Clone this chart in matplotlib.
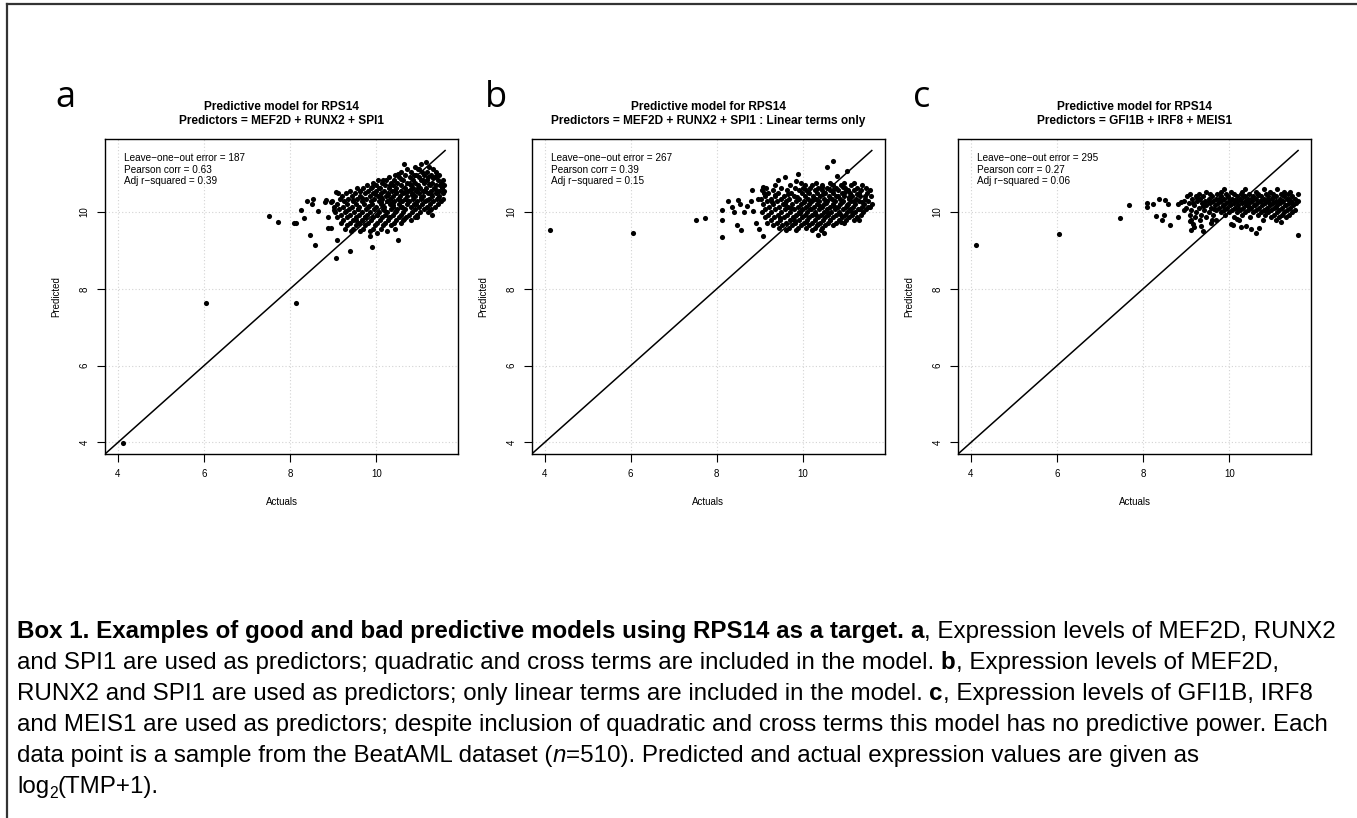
import matplotlib
matplotlib.use("Agg")
import matplotlib.pyplot as plt
from matplotlib.font_manager import FontProperties
from matplotlib.lines import Line2D

plt.rcParams['font.family'] = ['Liberation Sans', 'DejaVu Sans']

W, H = 1357, 818

# --- data (actual, predicted), log2(TMP+1) ---
# isolated / core points are (actual, predicted); the bulk of each cloud is
# written as rows: (predicted, [actual, actual, ...])

# panel a: MEF2D + RUNX2 + SPI1, quadratic and cross terms
a_outliers = [(4.12, 3.98), (6.05, 7.62), (8.13, 7.64), (7.50, 9.89), (7.71, 9.74),
              (8.10, 9.71), (8.14, 9.72), (8.26, 10.04), (8.32, 9.84), (8.39, 10.29),
              (8.50, 10.22), (8.53, 10.35), (8.47, 9.39), (8.58, 9.14), (8.64, 10.03),
              (8.81, 10.26), (8.84, 10.31), (8.94, 10.25), (8.89, 9.87), (8.88, 9.59),
              (8.96, 9.59), (9.01, 10.06), (9.07, 10.52), (9.09, 9.28), (9.06, 8.79),
              (9.40, 8.99), (9.90, 9.10), (9.86, 9.37), (10.03, 9.45), (10.51, 9.28)]
a_core = [(9.83, 10.16), (9.97, 10.47), (10.06, 10.62), (10.12, 10.27), (10.19, 10.05),
          (10.27, 10.44), (10.33, 10.71), (10.38, 10.18), (10.44, 10.56), (10.52, 10.33),
          (10.57, 10.87), (10.61, 10.12), (10.68, 10.52), (10.73, 10.29), (10.78, 10.74),
          (10.84, 10.45), (10.88, 10.95), (10.92, 10.21), (10.97, 10.62), (11.03, 10.39),
          (11.08, 10.83), (11.13, 10.54), (11.18, 10.31), (11.23, 10.72), (11.27, 10.47),
          (11.33, 10.88), (11.38, 10.58), (11.43, 10.36), (11.48, 10.69), (9.68, 10.37),
          (9.58, 10.08), (9.45, 10.31), (9.73, 9.88), (10.02, 9.91), (10.29, 9.88),
          (10.47, 10.02), (10.65, 9.83), (10.95, 9.87), (11.25, 10.05), (9.90, 10.66),
          (10.15, 10.82), (10.50, 10.98), (11.00, 11.12), (11.40, 10.93), (9.30, 10.03),
          (9.52, 9.79), (9.62, 10.55), (10.80, 10.60), (10.40, 10.25), (10.10, 10.40)]
a_rows = [
    (11.30, [11.16]),
    (11.24, [10.64, 11.05]),
    (11.17, [10.90, 11.22]),
    (11.11, [10.72, 10.98, 11.31]),
    (11.04, [10.58, 10.81, 11.07, 11.19, 11.40]),
    (10.97, [10.44, 10.67, 10.93, 11.12, 11.28, 11.47]),
    (10.91, [10.30, 10.52, 10.79, 10.99, 11.21, 11.36]),
    (10.83, [10.05, 10.22, 10.41, 10.63, 10.86, 11.05, 11.18, 11.44, 11.55]),
    (10.76, [9.92, 10.13, 10.34, 10.49, 10.71, 10.90, 11.11, 11.30, 11.50]),
    (10.70, [9.78, 9.99, 10.21, 10.40, 10.58, 10.80, 10.97, 11.24, 11.40, 11.57]),
    (10.62, [9.55, 9.70, 9.88, 10.08, 10.29, 10.47, 10.66, 10.85, 11.02, 11.15, 11.34, 11.52]),
    (10.55, [9.40, 9.62, 9.81, 10.00, 10.18, 10.36, 10.57, 10.74, 10.93, 11.09, 11.27, 11.45, 11.58]),
    (10.49, [9.12, 9.30, 9.51, 9.74, 9.93, 10.11, 10.27, 10.45, 10.63, 10.82, 11.00, 11.20, 11.38, 11.54]),
    (10.41, [9.20, 9.43, 9.63, 9.85, 10.04, 10.22, 10.39, 10.55, 10.71, 10.91, 11.08, 11.29, 11.47]),
    (10.34, [9.15, 9.35, 9.55, 9.76, 9.95, 10.13, 10.31, 10.50, 10.68, 10.86, 11.03, 11.22, 11.41, 11.56]),
    (10.28, [8.98, 9.26, 9.46, 9.67, 9.88, 10.06, 10.24, 10.42, 10.60, 10.77, 10.95, 11.14, 11.33, 11.50]),
    (10.20, [9.08, 9.31, 9.52, 9.72, 9.90, 10.10, 10.33, 10.53, 10.72, 10.88, 11.06, 11.25, 11.44]),
    (10.13, [9.03, 9.22, 9.43, 9.60, 9.81, 10.00, 10.19, 10.38, 10.57, 10.80, 10.99, 11.17, 11.36]),
    (10.07, [9.14, 9.36, 9.57, 9.77, 9.96, 10.15, 10.35, 10.48, 10.66, 10.90, 11.10, 11.28]),
    (9.99, [9.05, 9.27, 9.48, 9.68, 9.86, 10.07, 10.26, 10.44, 10.62, 10.83, 11.02, 11.21]),
    (9.92, [9.18, 9.39, 9.60, 9.79, 10.02, 10.21, 10.40, 10.58, 10.76, 10.95, 11.30]),
    (9.86, [9.10, 9.32, 9.53, 9.74, 9.93, 10.13, 10.33, 10.52, 10.70, 10.89]),
    (9.78, [9.24, 9.45, 9.66, 9.87, 10.08, 10.27, 10.46, 10.63, 10.81]),
    (9.71, [9.18, 9.38, 9.59, 9.81, 10.01, 10.20, 10.41, 10.58]),
    (9.65, [9.33, 9.52, 9.74, 9.97, 10.16, 10.35]),
    (9.57, [9.28, 9.47, 9.69, 9.92, 10.10, 10.44]),
    (9.50, [9.41, 9.63, 9.85, 10.24]),
]

# panel b: MEF2D + RUNX2 + SPI1, linear terms only
b_outliers = [(4.13, 9.52), (6.06, 9.44), (7.51, 9.80), (7.72, 9.84), (8.12, 10.04),
              (8.12, 9.78), (8.12, 9.34), (8.25, 10.29), (8.36, 10.13), (8.40, 10.01),
              (8.50, 10.30), (8.53, 10.22), (8.47, 9.65), (8.57, 9.54), (8.63, 10.00),
              (8.82, 10.58), (8.80, 10.29), (8.84, 10.02), (8.91, 9.72), (8.97, 9.57),
              (9.08, 9.38), (9.07, 10.65), (9.09, 10.50), (9.41, 10.84), (9.59, 10.91),
              (9.89, 11.00), (9.84, 10.80), (10.56, 11.17), (10.71, 11.32), (10.80, 10.93),
              (11.03, 11.06), (11.31, 9.78), (10.36, 9.39), (10.48, 9.45), (10.42, 9.54),
              (8.70, 10.15), (8.95, 10.35)]
b_core = [(9.72, 10.11), (9.86, 10.39), (9.94, 9.97), (10.03, 10.26), (10.12, 10.52),
          (10.17, 10.09), (10.24, 10.33), (10.31, 9.91), (10.39, 10.16), (10.46, 10.47),
          (10.53, 10.23), (10.58, 9.98), (10.64, 10.36), (10.69, 10.58), (10.74, 10.12),
          (10.81, 10.41), (10.86, 9.94), (10.91, 10.27), (10.98, 10.51), (11.03, 10.17),
          (11.08, 10.38), (11.14, 9.99), (11.19, 10.29), (11.26, 10.47), (11.32, 10.08),
          (11.38, 10.26), (11.44, 10.41), (11.52, 10.12), (9.58, 10.21), (9.47, 9.85),
          (9.65, 10.47), (9.81, 9.77), (10.08, 9.74), (10.36, 9.69), (10.62, 9.80),
          (10.88, 9.73), (9.28, 10.27), (9.36, 10.44), (10.44, 10.66), (10.93, 10.64)]
b_rows = [
    (10.76, [9.95, 10.30, 10.62, 10.95, 11.18]),
    (10.70, [9.35, 9.70, 10.05, 10.22, 10.45, 10.71, 10.88, 11.12, 11.38]),
    (10.63, [9.15, 9.48, 9.82, 10.00, 10.17, 10.36, 10.55, 10.78, 10.97, 11.25, 11.47]),
    (10.56, [9.05, 9.30, 9.62, 9.90, 10.08, 10.27, 10.44, 10.63, 10.82, 11.04, 11.19, 11.36, 11.55]),
    (10.49, [9.20, 9.42, 9.73, 9.97, 10.14, 10.33, 10.52, 10.71, 10.90, 11.10, 11.30, 11.50]),
    (10.42, [9.12, 9.36, 9.55, 9.80, 10.04, 10.23, 10.40, 10.60, 10.78, 10.96, 11.15, 11.33, 11.58]),
    (10.35, [9.02, 9.27, 9.50, 9.68, 9.91, 10.11, 10.30, 10.48, 10.67, 10.86, 11.06, 11.24, 11.44]),
    (10.28, [9.17, 9.40, 9.61, 9.83, 10.02, 10.19, 10.38, 10.56, 10.74, 10.93, 11.12, 11.31, 11.52]),
    (10.21, [9.08, 9.31, 9.53, 9.75, 9.95, 10.13, 10.32, 10.50, 10.69, 10.87, 11.05, 11.22, 11.41, 11.60]),
    (10.14, [9.22, 9.45, 9.66, 9.88, 10.07, 10.25, 10.44, 10.63, 10.81, 10.99, 11.17, 11.37, 11.55]),
    (10.07, [9.13, 9.36, 9.58, 9.79, 9.99, 10.18, 10.37, 10.56, 10.75, 10.92, 11.10, 11.28, 11.47]),
    (10.00, [9.04, 9.27, 9.49, 9.71, 9.92, 10.10, 10.29, 10.48, 10.66, 10.85, 11.03, 11.21, 11.40]),
    (9.93, [9.19, 9.41, 9.63, 9.85, 10.04, 10.22, 10.41, 10.59, 10.78, 10.97, 11.15, 11.34]),
    (9.86, [9.11, 9.33, 9.55, 9.77, 9.97, 10.15, 10.34, 10.52, 10.71, 10.90, 11.08, 11.26]),
    (9.79, [9.25, 9.47, 9.69, 9.90, 10.09, 10.27, 10.46, 10.64, 10.83, 11.01, 11.19]),
    (9.72, [9.16, 9.39, 9.61, 9.82, 10.02, 10.21, 10.39, 10.58, 10.77, 10.95]),
    (9.65, [9.30, 9.52, 9.75, 9.96, 10.14, 10.33, 10.51, 10.70]),
    (9.58, [9.44, 9.67, 9.89, 10.08, 10.27, 10.45]),
    (9.52, [9.60, 9.83, 10.20]),
]

# panel c: GFI1B + IRF8 + MEIS1
c_outliers = [(4.12, 9.15), (6.05, 9.42), (7.47, 9.85), (7.67, 10.19), (8.08, 10.13),
              (8.09, 10.24), (8.22, 10.22), (8.29, 9.89), (8.37, 10.34), (8.43, 9.80),
              (8.49, 9.91), (8.50, 10.30), (8.57, 10.22), (8.62, 9.65), (8.81, 9.87),
              (8.80, 10.20), (8.88, 10.26), (8.94, 10.06), (9.09, 9.77), (9.11, 9.54),
              (9.15, 9.70), (9.34, 9.63), (9.40, 9.50), (9.57, 9.71), (9.69, 9.78),
              (10.05, 9.70), (10.09, 9.65), (10.19, 9.83), (10.27, 9.61), (10.40, 9.63),
              (10.50, 9.57), (10.63, 9.45), (10.70, 9.59), (11.59, 9.39), (9.18, 9.62),
              (11.20, 9.74)]
c_core = [(9.52, 10.27), (9.64, 10.09), (9.76, 10.34), (9.86, 10.15), (9.97, 10.39),
          (10.04, 10.20), (10.13, 10.31), (10.22, 10.08), (10.31, 10.42), (10.39, 10.26),
          (10.46, 10.13), (10.53, 10.36), (10.61, 10.19), (10.68, 10.43), (10.74, 10.29),
          (10.82, 10.06), (10.89, 10.33), (10.95, 10.20), (11.02, 10.40), (11.09, 10.13),
          (11.16, 10.28), (11.24, 10.45), (11.31, 10.19), (11.38, 10.35), (11.47, 10.24),
          (9.38, 10.16), (9.26, 10.36), (9.15, 10.23)]
c_rows = [
    (10.60, [9.88, 10.37, 10.81, 11.12]),
    (10.53, [9.45, 9.80, 10.05, 10.30, 10.62, 10.95, 11.28, 11.42]),
    (10.47, [9.10, 9.30, 9.55, 9.72, 9.93, 10.12, 10.28, 10.47, 10.66, 10.85, 11.02, 11.20, 11.37, 11.60]),
    (10.41, [9.02, 9.22, 9.40, 9.61, 9.80, 9.98, 10.17, 10.36, 10.55, 10.73, 10.91, 11.09, 11.27, 11.46]),
    (10.35, [9.13, 9.33, 9.52, 9.70, 9.89, 10.07, 10.25, 10.44, 10.62, 10.80, 10.99, 11.17, 11.35, 11.53]),
    (10.29, [8.95, 9.25, 9.44, 9.62, 9.81, 9.99, 10.18, 10.36, 10.54, 10.72, 10.90, 11.08, 11.26, 11.44, 11.59]),
    (10.23, [9.07, 9.36, 9.55, 9.74, 9.92, 10.10, 10.29, 10.47, 10.65, 10.83, 11.01, 11.19, 11.38, 11.55]),
    (10.17, [9.18, 9.47, 9.66, 9.85, 10.03, 10.21, 10.40, 10.58, 10.76, 10.94, 11.12, 11.30, 11.49]),
    (10.11, [9.00, 9.29, 9.58, 9.77, 9.96, 10.14, 10.32, 10.51, 10.69, 10.87, 11.05, 11.23, 11.42]),
    (10.05, [9.12, 9.41, 9.69, 9.88, 10.07, 10.25, 10.44, 10.62, 10.80, 10.98, 11.16, 11.35, 11.52]),
    (9.99, [9.24, 9.52, 9.80, 10.00, 10.18, 10.37, 10.55, 10.73, 10.91, 11.10, 11.28, 11.45]),
    (9.93, [9.08, 9.35, 9.63, 9.91, 10.30, 10.66, 10.84, 11.03, 11.22, 11.40]),
    (9.86, [9.20, 9.47, 10.10, 10.48, 10.96, 11.15, 11.33]),
    (9.80, [9.12, 9.32, 9.60, 10.23, 10.78, 11.08]),
]

panel_letters = ['a', 'b', 'c']
subtitles = ['Predictors = MEF2D + RUNX2 + SPI1',
             'Predictors = MEF2D + RUNX2 + SPI1 : Linear terms only',
             'Predictors = GFI1B + IRF8 + MEIS1']
loo_error = [187, 267, 295]
pearson = [0.63, 0.39, 0.27]
adj_r2 = [0.39, 0.15, 0.06]
ticks = [4, 6, 8, 10]


def points(pairs, rows):
    xs = [p[0] for p in pairs]
    ys = [p[1] for p in pairs]
    for y, row in rows:
        xs += row
        ys += [y] * len(row)
    return xs, ys


data = [points(a_outliers + a_core, a_rows),
        points(b_outliers + b_core, b_rows),
        points(c_outliers + c_core, c_rows)]

fig = plt.figure(figsize=(W / 100, H / 100), dpi=100)

ax_left = [105, 531.7, 958]
ax_w, ax_top, ax_bot = 353, 139, 454
letter_x = [55, 485, 913]

for i in range(3):
    ax = fig.add_axes([ax_left[i] / W, 1 - ax_bot / H, ax_w / W, (ax_bot - ax_top) / H])
    xs, ys = data[i]
    ax.set_xlim(3.70, 11.90)
    ax.set_ylim(3.70, 11.90)
    ax.set_xticks(ticks)
    ax.set_yticks(ticks)
    ax.grid(True, color='#d3d3d3', linestyle=(0, (1, 2)), linewidth=0.8)
    ax.set_axisbelow(True)
    ax.plot([0, 11.6], [0, 11.6], color='black', lw=1.1)
    ax.plot(xs, ys, 'o', color='black', ms=3.7, mew=0)
    for s in ax.spines.values():
        s.set_linewidth(1.0)
    ax.tick_params(length=6, width=0.8, labelsize=7, pad=5)
    for lab in ax.get_yticklabels():
        lab.set_rotation(90)
        lab.set_va('center')
    ax.set_xlabel('Actuals', fontsize=7)
    ax.set_ylabel('Predicted', fontsize=7)
    ax.xaxis.set_label_coords(0.5, -0.137)
    ax.yaxis.set_label_coords(-0.123, 0.5)

    ax.text(0.5, 1.1025, 'Predictive model for RPS14', transform=ax.transAxes,
            ha='center', va='center', fontsize=8.6, fontweight='bold')
    ax.text(0.5, 1.0556, subtitles[i], transform=ax.transAxes,
            ha='center', va='center', fontsize=8.6, fontweight='bold')

    stats = ['Leave\u2212one\u2212out error = %d' % loo_error[i],
             'Pearson corr = %.2f' % pearson[i],
             'Adj r\u2212squared = %.2f' % adj_r2[i]]
    for k, s in enumerate(stats):
        ax.text(0.054, 0.940 - 0.037 * k, s, transform=ax.transAxes,
                ha='left', va='center', fontsize=7.2)

    fig.text(letter_x[i] / W, 1 - 107 / H, panel_letters[i], family='Open Sans',
             fontsize=26, ha='left', va='baseline')

# frame (left and top edges only)
fig.add_artist(Line2D([7 / W, 7 / W], [0, 1 - 4 / H], color='#333333', lw=1.6))
fig.add_artist(Line2D([7 / W, 1], [1 - 4 / H, 1 - 4 / H], color='#333333', lw=1.6))

# caption, drawn piece by piece so bold/italic/subscript can be mixed
cap_size = 17.4
renderer = fig.canvas.get_renderer()


def seg_width(s, prop):
    w1 = renderer.get_text_width_height_descent(s + '|', prop, ismath=False)[0]
    w2 = renderer.get_text_width_height_descent('|', prop, ismath=False)[0]
    return w1 - w2


def draw_caption_line(segments, y_px, x_px=17):
    x = x_px
    for s, style in segments:
        size = cap_size
        dy = 0
        weight, fstyle = 'normal', 'normal'
        if style == 'b':
            weight = 'bold'
        elif style == 'i':
            fstyle = 'italic'
        elif style == 'sub':
            size = cap_size * 0.65
            dy = 5
        prop = FontProperties(family='Liberation Sans', size=size, weight=weight, style=fstyle)
        fig.text(x / W, 1 - (y_px + dy) / H, s, fontproperties=prop, ha='left', va='baseline')
        x += seg_width(s, prop)


caption = [
    [('Box 1. Examples of good and bad predictive models using RPS14 as a target. ', 'b'),
     ('a', 'b'), (', Expression levels of MEF2D, RUNX2', 'n')],
    [('and SPI1 are used as predictors; quadratic and cross terms are included in the model. ', 'n'),
     ('b', 'b'), (', Expression levels of MEF2D,', 'n')],
    [('RUNX2 and SPI1 are used as predictors; only linear terms are included in the model. ', 'n'),
     ('c', 'b'), (', Expression levels of GFI1B, IRF8', 'n')],
    [('and MEIS1 are used as predictors; despite inclusion of quadratic and cross terms this '
      'model has no predictive power. Each', 'n')],
    [('data point is a sample from the BeatAML dataset (', 'n'), ('n', 'i'),
     ('=510). Predicted and actual expression values are given as', 'n')],
    [('log', 'n'), ('2', 'sub'), ('(TMP+1).', 'n')],
]

for j, line in enumerate(caption):
    draw_caption_line(line, 638 + 31 * j)

fig.savefig('out.png', dpi=100)
